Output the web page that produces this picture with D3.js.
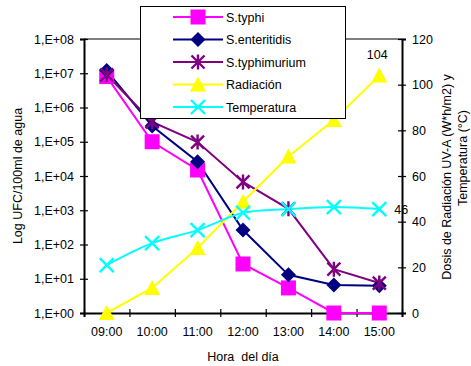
<!DOCTYPE html>
<html>
<head>
<meta charset="utf-8">
<script src="https://cdn.jsdelivr.net/npm/d3@7"></script>
<style>
  body { margin: 0; background: #fff; }
  text { font-family: "Liberation Sans", Arial, sans-serif; }
</style>
</head>
<body>
<svg id="chart" width="471" height="366"></svg>
<script>
const WIDTH = 471;
const HEIGHT = 366;
const MARGIN = { top: 39, right: 69, bottom: 53, left: 84 };
const FONT_SIZE = "12.5px";

// chart data
const hours = ["09:00", "10:00", "11:00", "12:00", "13:00", "14:00", "15:00"];
const typhi = [8e6, 1e5, 1.5e4, 27, 5.4, 1, 1];
const enteritidis = [1.2e7, 2.9e5, 2.6e4, 265, 13, 6.6, 6.2];
const typhimurium = [9e6, 3.8e5, 9.8e4, 6.7e3, 1.1e3, 19, 7.5];
const radiacion = [0, 11, 28.5, 48.7, 68.5, 84.5, 104];
const temperatura = [21, 30.6, 36.3, 43.9, 45.5, 46.4, 45.5];
const leftTicks = [1e0, 1e1, 1e2, 1e3, 1e4, 1e5, 1e6, 1e7, 1e8];
const rightTicks = [0, 20, 40, 60, 80, 100, 120];

const series = [
  { name: "S.typhi", values: typhi, axis: "left", color: "#ff00ff", marker: "square" },
  { name: "S.enteritidis", values: enteritidis, axis: "left", color: "#000080", marker: "diamond" },
  { name: "S.typhimurium", values: typhimurium, axis: "left", color: "#800080", marker: "star" },
  { name: "Radiación", values: radiacion, axis: "right", color: "#ffff00", marker: "triangle" },
  { name: "Temperatura", values: temperatura, axis: "right", color: "#00ffff", marker: "cross", smooth: true },
];

const svg = d3.select("#chart");
const x0 = MARGIN.left;
const x1 = WIDTH - MARGIN.right;
const y0 = HEIGHT - MARGIN.bottom;
const y1 = MARGIN.top;

const xScale = d3.scaleBand().domain(hours).range([x0, x1]);
const xEdge = d3.scaleLinear().domain([0, hours.length]).range([x0, x1]);
const yLeft = d3.scaleLog().domain([1, 1e8]).range([y0, y1]);
const yRight = d3.scaleLinear().domain([0, 120]).range([y0, y1]);
const cx = (i) => xScale(hours[i]) + xScale.bandwidth() / 2;

// top border of plot area
svg.append("line")
  .attr("x1", x0).attr("x2", x1).attr("y1", y1).attr("y2", y1)
  .attr("stroke", "#808080").attr("stroke-width", 2);

function styleAxis(g) {
  g.select(".domain").attr("stroke", "#000").attr("stroke-width", 2);
  g.selectAll(".tick line").attr("stroke", "#000").attr("stroke-width", 1.2);
  g.selectAll(".tick text").attr("font-size", FONT_SIZE).attr("fill", "#000")
    .attr("font-family", "Liberation Sans, Arial, sans-serif");
}

// left axis
const gLeft = svg.append("g")
  .attr("transform", `translate(${x0},0)`)
  .call(d3.axisLeft(yLeft).tickValues(leftTicks).tickSizeOuter(0).tickSize(4)
    .tickPadding(6)
    .tickFormat((d) => "1,E+" + String(Math.round(Math.log10(d))).padStart(2, "0")));
styleAxis(gLeft);
gLeft.selectAll(".tick line").attr("x1", 4).attr("x2", -4);

// right axis
const gRight = svg.append("g")
  .attr("transform", `translate(${x1},0)`)
  .call(d3.axisRight(yRight).tickValues(rightTicks).tickSizeOuter(0).tickSize(4).tickPadding(6));
styleAxis(gRight);
gRight.selectAll(".tick line").attr("x1", -4).attr("x2", 4);

// bottom axis: ticks at category edges, labels at centers
const gEdge = svg.append("g")
  .attr("transform", `translate(0,${y0})`)
  .call(d3.axisBottom(xEdge).tickValues(d3.range(hours.length + 1)).tickFormat("").tickSizeOuter(0).tickSize(4));
styleAxis(gEdge);
gEdge.selectAll(".tick line").attr("y1", -4).attr("y2", 4);

const gBottom = svg.append("g")
  .attr("transform", `translate(0,${y0})`)
  .call(d3.axisBottom(xScale).tickSize(0).tickPadding(14));
gBottom.select(".domain").remove();
styleAxis(gBottom);

// axis titles
svg.append("text")
  .attr("transform", `translate(22,176) rotate(-90)`)
  .attr("text-anchor", "middle").attr("font-size", FONT_SIZE)
  .text("Log UFC/100ml de agua");
svg.append("text")
  .attr("transform", `translate(451,177) rotate(-90)`)
  .attr("text-anchor", "middle").attr("font-size", FONT_SIZE)
  .text("Dosis de Radiación UV-A (W*h/m2) y");
svg.append("text")
  .attr("transform", `translate(467,158) rotate(-90)`)
  .attr("text-anchor", "middle").attr("font-size", FONT_SIZE)
  .text("Temperatura (°C)");
svg.append("text")
  .attr("x", 243).attr("y", 361)
  .attr("text-anchor", "middle").attr("font-size", FONT_SIZE)
  .style("white-space", "pre")
  .text("Hora  del día");

// marker shapes
function markerPath(type) {
  switch (type) {
    case "square": return "M-7.5,-7.5H7.5V7.5H-7.5Z";
    case "diamond": return "M0,-7.5L7.5,0L0,7.5L-7.5,0Z";
    case "triangle": return "M0,-8L8,7H-8Z";
    case "cross": return "M-7,-7L7,7M-7,7L7,-7";
    case "star": return "M-6.5,-6.5L6.5,6.5M-6.5,6.5L6.5,-6.5M0,-7.5V7.5";
  }
}

function drawMarker(g, type, color, x, y) {
  const open = type === "cross" || type === "star";
  g.append("path")
    .attr("transform", `translate(${x},${y})`)
    .attr("d", markerPath(type))
    .attr("fill", open ? "none" : color)
    .attr("stroke", open ? color : "none")
    .attr("stroke-width", 2.4);
}

// series lines and markers
const plot = svg.append("g");
series.forEach((s) => {
  const yScale = s.axis === "left" ? yLeft : yRight;
  const line = d3.line()
    .x((d, i) => cx(i))
    .y((d) => yScale(d))
    .curve(s.smooth ? d3.curveCatmullRom.alpha(0.5) : d3.curveLinear);
  plot.append("path")
    .datum(s.values)
    .attr("d", line)
    .attr("fill", "none")
    .attr("stroke", s.color)
    .attr("stroke-width", 2);
});
series.forEach((s) => {
  const yScale = s.axis === "left" ? yLeft : yRight;
  s.values.forEach((v, i) => drawMarker(plot, s.marker, s.color, cx(i), yScale(v)));
});

// data labels on the last points
const last = hours.length - 1;
svg.append("text")
  .attr("x", cx(last) - 2).attr("y", yRight(radiacion[last]) - 17)
  .attr("text-anchor", "middle").attr("font-size", FONT_SIZE)
  .text(radiacion[last]);
svg.append("text")
  .attr("x", cx(last) + 15).attr("y", yRight(temperatura[last]) + 4.5)
  .attr("font-size", FONT_SIZE)
  .text(Math.round(temperatura[last]));

// legend
const legend = svg.append("g");
legend.append("rect")
  .attr("x", 140.5).attr("y", 6.5).attr("width", 205).attr("height", 112)
  .attr("fill", "#fff").attr("stroke", "#000").attr("stroke-width", 1);
series.forEach((s, i) => {
  const y = 17 + i * 22.5;
  legend.append("line")
    .attr("x1", 173).attr("x2", 223).attr("y1", y).attr("y2", y)
    .attr("stroke", s.color).attr("stroke-width", 2);
  drawMarker(legend, s.marker, s.color, 198, y);
  legend.append("text")
    .attr("x", 226).attr("y", y + 4.5)
    .attr("font-size", FONT_SIZE)
    .text(s.name);
});
</script>
</body>
</html>
